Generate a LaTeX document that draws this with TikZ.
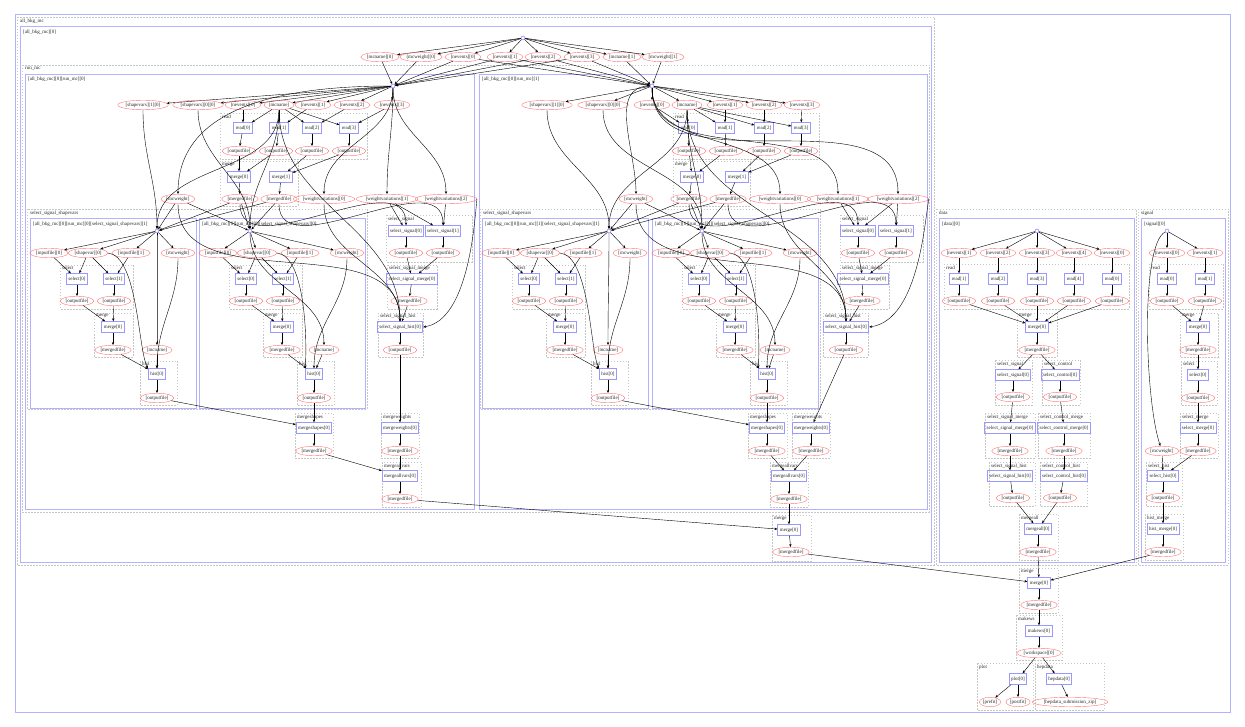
\documentclass[tikz,border=0pt]{standalone}
\usepackage{fontspec}
\setmainfont{Liberation Serif}
\usetikzlibrary{arrows.meta,shapes.geometric}

\begin{document}
\begin{tikzpicture}[x=1pt,y=-1pt,>={Stealth[length=3pt,width=2.4pt]},
  every node/.style={font=\fontsize{5}{6}\selectfont,text=black!85},
  file/.style={ellipse,draw=red!55,inner xsep=0.5pt,inner ysep=0pt,minimum height=9.5pt},
  job/.style={draw=blue!40,line width=0.9pt,inner xsep=2pt,inner ysep=0pt,minimum height=10.5pt},
  hub/.style={circle,draw=blue!60,fill=white,inner sep=0pt,minimum size=4pt},
  stagebox/.style={draw=blue!30,line width=1pt},
  stepbox/.style={draw=black!22,dash pattern=on 1.5pt off 1.5pt,line width=0.3pt},
  lbl/.style={anchor=north west,inner sep=0pt},
  dn/.style={out=-90,in=90}]
  \useasboundingbox (0,0) rectangle (1245,727);

  % Cluster frames
  \draw[stagebox] (15,15) rectangle (1230,712);
  \draw[stepbox] (17,17) rectangle (934,565);
  \node[lbl] (Lbkg) at (20,19) {all\_bkg\_mc};
  \draw[stagebox] (20,27) rectangle (931,562);
  \node[lbl] (Lbkg0) at (23,30) {[all\_bkg\_mc][0]};
  \draw[stepbox] (22,65) rectangle (929,512);
  \node[lbl] (Lrun) at (25,67) {run\_mc};
  \draw[stagebox] (25,75) rectangle (474,509);
  \node[lbl] (Lrun0) at (28,77) {[all\_bkg\_mc][0][run\_mc][0]};
  \draw[stagebox] (479,75) rectangle (927,509);
  \node[lbl] (Lrun1) at (482,77) {[all\_bkg\_mc][0][run\_mc][1]};
  % steps of run_mc[0]
  \draw[stepbox] (220,113) rectangle (367,159);   \node[lbl] (Lard) at (222,115) {read};
  \draw[stepbox] (220,161) rectangle (298,206);   \node[lbl] (Lamg) at (222,163) {merge};
  \draw[stepbox] (27,209) rectangle (367,409);    \node[lbl] (Lasss) at (30,211) {select\_signal\_shapevars};
  \draw[stepbox] (386,215) rectangle (472,262);   \node[lbl] (Lass) at (388,217) {select\_signal};
  \draw[stepbox] (387,265) rectangle (437,309);   \node[lbl] (Lassm) at (389,266) {select\_signal\_merge};
  \draw[stepbox] (378,313) rectangle (423,357);   \node[lbl] (Lash) at (380,314) {select\_signal\_hist};
  \draw[stepbox] (295,413) rectangle (333,458);   \node[lbl] (Lams) at (297,415) {mergeshapes};
  \draw[stepbox] (381,413) rectangle (419,458);   \node[lbl] (Lamw) at (383,415) {mergeweights};
  \draw[stepbox] (382,462) rectangle (421,507);   \node[lbl] (Lamav) at (384,464) {mergeallvars};
  % steps of run_mc[1]
  \draw[stepbox] (673,113) rectangle (819,159);   \node[lbl] (Lbrd) at (675,115) {read};
  \draw[stepbox] (673,161) rectangle (750,206);   \node[lbl] (Lbmg) at (675,163) {merge};
  \draw[stepbox] (480,209) rectangle (820,409);   \node[lbl] (Lbsss) at (483,211) {select\_signal\_shapevars};
  \draw[stepbox] (840,215) rectangle (923,262);   \node[lbl] (Lbss) at (842,217) {select\_signal};
  \draw[stepbox] (840,265) rectangle (889,309);   \node[lbl] (Lbssm) at (842,266) {select\_signal\_merge};
  \draw[stepbox] (823,313) rectangle (868,357);   \node[lbl] (Lbsh) at (825,314) {select\_signal\_hist};
  \draw[stepbox] (748,413) rectangle (787,458);   \node[lbl] (Lbms) at (750,415) {mergeshapes};
  \draw[stepbox] (792,413) rectangle (830,458);   \node[lbl] (Lbmw) at (794,415) {mergeweights};
  \draw[stepbox] (770,462) rectangle (808,507);   \node[lbl] (Lbmav) at (772,464) {mergeallvars};
  \draw[stepbox] (772,515) rectangle (811,561);   \node[lbl] (Lkmg) at (774,517) {merge};
  % data and signal frames
  \draw[stepbox] (936,209) rectangle (1136,565);  \node[lbl] (Ldata) at (939,211) {data};
  \draw[stagebox] (939,219) rectangle (1134,562); \node[lbl] (Ldata0) at (942,222) {[data][0]};
  \draw[stepbox] (944,264) rectangle (1129,309);  \node[lbl] (Ldrd) at (946,266) {read};
  \draw[stepbox] (1017,313) rectangle (1057,357); \node[lbl] (Ldmg) at (1019,314) {merge};
  \draw[stepbox] (995,360) rectangle (1032,405);  \node[lbl] (Ldss) at (997,362) {select\_signal};
  \draw[stepbox] (1042,360) rectangle (1080,405); \node[lbl] (Ldsc) at (1044,362) {select\_control};
  \draw[stepbox] (985,413) rectangle (1035,458);  \node[lbl] (Ldssm) at (987,415) {select\_signal\_merge};
  \draw[stepbox] (1038,413) rectangle (1090,458); \node[lbl] (Ldscm) at (1040,415) {select\_control\_merge};
  \draw[stepbox] (989,462) rectangle (1035,506);  \node[lbl] (Ldssh) at (991,464) {select\_signal\_hist};
  \draw[stepbox] (1040,462) rectangle (1087,506); \node[lbl] (Ldsch) at (1042,464) {select\_control\_hist};
  \draw[stepbox] (1019,514) rectangle (1058,560); \node[lbl] (Ldma) at (1021,516) {mergeall};
  \draw[stepbox] (1138,209) rectangle (1228,565); \node[lbl] (Lsig) at (1141,211) {signal};
  \draw[stagebox] (1141,219) rectangle (1225,562); \node[lbl] (Lsig0) at (1144,222) {[signal][0]};
  \draw[stepbox] (1149,264) rectangle (1223,309); \node[lbl] (Lsrd) at (1151,266) {read};
  \draw[stepbox] (1180,313) rectangle (1218,357); \node[lbl] (Lsmg) at (1182,314) {merge};
  \draw[stepbox] (1181,361) rectangle (1217,405); \node[lbl] (Lssel) at (1183,362) {select};
  \draw[stepbox] (1180,413) rectangle (1218,458); \node[lbl] (Lssm) at (1182,415) {select\_merge};
  \draw[stepbox] (1146,462) rectangle (1182,506); \node[lbl] (Lssh) at (1148,464) {select\_hist};
  \draw[stepbox] (1145,514) rectangle (1183,560); \node[lbl] (Lshm) at (1147,516) {hist\_merge};
  % final steps
  \draw[stepbox] (1019,568) rectangle (1058,613); \node[lbl] (Lfmg) at (1021,570) {merge};
  \draw[stepbox] (1016,615) rectangle (1062,660); \node[lbl] (Lfws) at (1018,617) {makews};
  \draw[stepbox] (977,663) rectangle (1033,710);  \node[lbl] (Lfpl) at (979,665) {plot};
  \draw[stepbox] (1035,663) rectangle (1104,710); \node[lbl] (Lfhd) at (1037,665) {hepdata};

  % Top level inputs
  \node[hub] (top) at (523,38) {};
  \foreach \n/\x/\lab in {tmn0/380/{[mcname][0]}, tmw0/421/{[mcweight][0]}, tne0/463/{[nevents][0]},
      tne1/505/{[nevents][1]}, tne2/543/{[nevents][2]}, tne3/582/{[nevents][3]},
      tmn1/622/{[mcname][1]}, tmw1/663/{[mcweight][1]}}
    {\node[file] (\n) at (\x,57) {\lab}; \draw[->] (top) -- (\n);}
  \node[hub] (ah) at (393,86) {};
  \node[hub] (bh) at (652,86) {};
  \foreach \n in {tmn0,tmw0,tne0,tne1,tne2,tne3} \draw[->] (\n) -- (ah);
  \foreach \n in {tne0,tne1,tne2,tne3,tmn1,tmw1} \draw[->] (\n) -- (bh);

  % run_mc[0]
  \foreach \n/\x/\lab in {asv1/143/{[shapevars][1][0]}, asv0/198/{[shapevars][0][0]}, ane0/243/{[nevents][0]},
      amn/279/{[mcname]}, ane1/313/{[nevents][1]}, ane2/352/{[nevents][2]}, ane3/392/{[nevents][3]}}
    {\node[file] (\n) at (\x,105) {\lab}; \draw[->] (ah) -- (\n);}
  \foreach \i/\x/\y in {0/243/239,1/279/276,2/312/312,3/349/349} {
    \node[job] (ard\i) at (\x,128) {read[\i]};
    \node[file] (aro\i) at (\y,151) {[outputfile]};
    \draw[->] (amn) -- (ard\i);
    \draw[->] (ane\i) -- (ard\i);
    \draw[->] (ard\i) -- (aro\i);
  }
  \node[job] (amg0) at (239,177) {merge[0]};
  \node[job] (amg1) at (281,177) {merge[1]};
  \node[file] (amf0) at (240,199) {[mergedfile]};
  \node[file] (amf1) at (279,199) {[mergedfile]};
  \draw[->] (aro0) -- (amg0);
  \draw[->] (aro1) -- (amg0);
  \draw[->] (aro2) -- (amg1);
  \draw[->] (aro3) -- (amg1);
  \draw[->] (amg0) -- (amf0);
  \draw[->] (amg1) -- (amf1);
  \node[file] (amw) at (178,199) {[mcweight]};
  \node[file] (awv0) at (324,199) {[weightvariations][0]};
  \node[file] (awv1) at (387,199) {[weightvariations][1]};
  \node[file] (awv2) at (446,199) {[weightvariations][2]};
  \draw[->] (ah) to[out=180,in=90] (amw);
  \foreach \n in {awv0,awv1,awv2} \draw[->] (ah) to[dn] (\n);

  % run_mc[1]
  \foreach \n/\x/\lab in {bsv1/547/{[shapevars][1][0]}, bsv0/603/{[shapevars][0][0]}, bne0/652/{[nevents][0]},
      bmn/687/{[mcname]}, bne1/725/{[nevents][1]}, bne2/764/{[nevents][2]}, bne3/802/{[nevents][3]}}
    {\node[file] (\n) at (\x,105) {\lab}; \draw[->] (bh) -- (\n);}
  \foreach \i/\x/\y in {0/688/689,1/725/726,2/764/764,3/801/801} {
    \node[job] (brd\i) at (\x,128) {read[\i]};
    \node[file] (bro\i) at (\y,151) {[outputfile]};
    \draw[->] (bmn) -- (brd\i);
    \draw[->] (bne\i) -- (brd\i);
    \draw[->] (brd\i) -- (bro\i);
  }
  \node[job] (bmg0) at (692,177) {merge[0]};
  \node[job] (bmg1) at (737,177) {merge[1]};
  \node[file] (bmf0) at (689,199) {[mergedfile]};
  \node[file] (bmf1) at (728,199) {[mergedfile]};
  \draw[->] (bro0) -- (bmg0);
  \draw[->] (bro1) -- (bmg0);
  \draw[->] (bro2) -- (bmg1);
  \draw[->] (bro3) -- (bmg1);
  \draw[->] (bmg0) -- (bmf0);
  \draw[->] (bmg1) -- (bmf1);
  \node[file] (bmw) at (636,199) {[mcweight]};
  \node[file] (bwv0) at (780,199) {[weightvariations][0]};
  \node[file] (bwv1) at (838,199) {[weightvariations][1]};
  \node[file] (bwv2) at (898,199) {[weightvariations][2]};
  \draw[->] (bh) to[out=180,in=90] (bmw);
  \foreach \n in {bwv0,bwv1,bwv2} \draw[->] (bh) to[dn] (\n);

  % select_signal_shapevars blocks
  \foreach \p/\bx/\hx/\mx/\hs/\rn/\sn in {a1/30/127/127/127/0/1, a0/199/51/125/115/0/0,
      b1/482/127/126/126/1/1, b0/652/50/123/115/1/0} {
    \draw[stagebox] (\bx,219) rectangle (\bx+166,408);
    \node[lbl] (\p-lab) at (\bx+3,222) {[all\_bkg\_mc][0][run\_mc][\rn][select\_signal\_shapevars][\sn]};
    \draw[stepbox] (\bx+30,265) rectangle (\bx+103,309);
    \node[lbl] (\p-lsel) at (\bx+32,266) {select};
    \draw[stepbox] (\bx+64,313) rectangle (\bx+103,357);
    \node[lbl] (\p-lmg) at (\bx+66,314) {merge};
    \draw[stepbox] (\bx+\hs-17,361) rectangle (\bx+\hs+20,405);
    \node[lbl] (\p-lhi) at (\bx+\hs-15,362) {hist};
    \node[hub] (\p-h) at (\bx+\hx,231) {};
    \node[file] (\p-in0) at (\bx+19,253) {[inputfile][0]};
    \node[file] (\p-sv) at (\bx+58,253) {[shapevar][0]};
    \node[file] (\p-in1) at (\bx+101,253) {[inputfile][1]};
    \node[file] (\p-mw) at (\bx+148,253) {[mcweight]};
    \node[job] (\p-s0) at (\bx+47,279) {select[0]};
    \node[job] (\p-s1) at (\bx+84,279) {select[1]};
    \node[file] (\p-so0) at (\bx+47,301) {[outputfile]};
    \node[file] (\p-so1) at (\bx+84,301) {[outputfile]};
    \node[job] (\p-mg) at (\bx+83,327) {merge[0]};
    \node[file] (\p-mf) at (\bx+83,350) {[mergedfile]};
    \node[file] (\p-mn) at (\bx+\mx,350) {[mcname]};
    \node[job] (\p-hi) at (\bx+\hs,374) {hist[0]};
    \node[file] (\p-ho) at (\bx+\hs,398) {[outputfile]};
    \foreach \n in {in0,sv,in1,mw} \draw[->] (\p-h) -- (\p-\n);
    \draw[->] (\p-h) to[dn] (\p-mn);
    \draw[->] (\p-in0) -- (\p-s0);
    \draw[->] (\p-sv) -- (\p-s0);
    \draw[->] (\p-sv) -- (\p-s1);
    \draw[->] (\p-in1) -- (\p-s1);
    \draw[->] (\p-s0) -- (\p-so0);
    \draw[->] (\p-s1) -- (\p-so1);
    \draw[->] (\p-so0) -- (\p-mg);
    \draw[->] (\p-so1) -- (\p-mg);
    \draw[->] (\p-mg) -- (\p-mf);
    \draw[->] (\p-mf) -- (\p-hi);
    \draw[->] (\p-mn) -- (\p-hi);
    \draw[->] (\p-mw) to[dn] (\p-hi);
    \draw[->] (\p-sv.east) .. controls (\bx+108,256) and (\bx+108,350) .. (\p-hi.north west);
    \draw[->] (\p-hi) -- (\p-ho);
  }
  % inputs of the shapevar hubs
  \draw[->] (asv1) to[dn] (a1-h);
  \draw[->] (asv0) to[dn] (a0-h);
  \draw[->] (bsv1) to[dn] (b1-h);
  \draw[->] (bsv0) to[dn] (b0-h);
  \foreach \r in {a,b} {
    \foreach \s in {1,0} {
      \draw[->] (\r mw) -- (\r\s-h);
      \draw[->] (\r mn) to[dn] (\r\s-h);
      \draw[->] (\r mf0) -- (\r\s-h);
      \draw[->] (\r mf1) -- (\r\s-h);
    }
  }

  % select_signal of run_mc[0]
  \node[job] (ass0) at (406,231) {select\_signal[0]};
  \node[job] (ass1) at (443,231) {select\_signal[1]};
  \node[file] (asso0) at (406,253) {[outputfile]};
  \node[file] (asso1) at (443,253) {[outputfile]};
  \node[job] (assm) at (412,279) {select\_signal\_merge[0]};
  \node[file] (assmf) at (409,301) {[mergedfile]};
  \node[job] (ash) at (400,327) {select\_signal\_hist[0]};
  \node[file] (asho) at (400,350) {[outputfile]};
  \draw[->] (amf0) to[dn] (ass0);
  \draw[->] (amf1) to[dn] (ass1);
  \draw[->] (awv1) -- (ass0);
  \draw[->] (awv1) -- (ass1);
  \draw[->] (awv2) -- (ass1);
  \draw[->] (ass0) -- (asso0);
  \draw[->] (ass1) -- (asso1);
  \draw[->] (asso0) -- (assm);
  \draw[->] (asso1) -- (assm);
  \draw[->] (assm) -- (assmf);
  \draw[->] (assmf) -- (ash);
  \draw[->] (amn) to[dn] (ash);
  \draw[->] (amw) to[dn] (ash);
  \draw[->] (awv0) to[dn] (ash);
  \draw[->] (awv2.east) .. controls (475,215) and (470,320) .. (ash.east);
  \draw[->] (ash) -- (asho);
  % merges of run_mc[0]
  \node[job] (ams) at (314,428) {mergeshapes[0]};
  \node[file] (amsf) at (314,451) {[mergedfile]};
  \node[job] (amwt) at (400,428) {mergeweights[0]};
  \node[file] (amwf) at (400,451) {[mergedfile]};
  \node[job] (amav) at (400,476) {mergeallvars[0]};
  \node[file] (amavf) at (400,499) {[mergedfile]};
  \draw[->] (a1-ho) -- (ams);
  \draw[->] (a0-ho) -- (ams);
  \draw[->] (ams) -- (amsf);
  \draw[->] (asho) -- (amwt);
  \draw[->] (amwt) -- (amwf);
  \draw[->] (amsf) -- (amav);
  \draw[->] (amwf) -- (amav);
  \draw[->] (amav) -- (amavf);

  % select_signal of run_mc[1]
  \node[job] (bss0) at (858,231) {select\_signal[0]};
  \node[job] (bss1) at (896,231) {select\_signal[1]};
  \node[file] (bsso0) at (858,253) {[outputfile]};
  \node[file] (bsso1) at (896,253) {[outputfile]};
  \node[job] (bssm) at (863,279) {select\_signal\_merge[0]};
  \node[file] (bssmf) at (862,301) {[mergedfile]};
  \node[job] (bsh) at (846,327) {select\_signal\_hist[0]};
  \node[file] (bsho) at (846,350) {[outputfile]};
  \draw[->] (bmf0) to[dn] (bss0);
  \draw[->] (bmf1) to[dn] (bss1);
  \draw[->] (bwv1) -- (bss0);
  \draw[->] (bwv2) -- (bss0);
  \draw[->] (bwv2) -- (bss1);
  \draw[->] (bss0) -- (bsso0);
  \draw[->] (bss1) -- (bsso1);
  \draw[->] (bsso0) -- (bssm);
  \draw[->] (bsso1) -- (bssm);
  \draw[->] (bssm) -- (bssmf);
  \draw[->] (bssmf) -- (bsh);
  \draw[->] (bmn) to[dn] (bsh);
  \draw[->] (bmw) to[dn] (bsh);
  \draw[->] (bwv0) to[dn] (bsh);
  \draw[->] (bwv2.east) .. controls (925,215) and (920,320) .. (bsh.east);
  \draw[->] (bsh) -- (bsho);
  % merges of run_mc[1]
  \node[job] (bms) at (767,428) {mergeshapes[0]};
  \node[file] (bmsf) at (767,451) {[mergedfile]};
  \node[job] (bmwt) at (811,428) {mergeweights[0]};
  \node[file] (bmwf) at (811,451) {[mergedfile]};
  \node[job] (bmav) at (789,476) {mergeallvars[0]};
  \node[file] (bmavf) at (789,499) {[mergedfile]};
  \draw[->] (b1-ho) -- (bms);
  \draw[->] (b0-ho) -- (bms);
  \draw[->] (bms) -- (bmsf);
  \draw[->] (bsho) -- (bmwt);
  \draw[->] (bmwt) -- (bmwf);
  \draw[->] (bmsf) -- (bmav);
  \draw[->] (bmwf) -- (bmav);
  \draw[->] (bmav) -- (bmavf);
  % merge of all_bkg_mc
  \node[job] (kmg) at (789,530) {merge[0]};
  \node[file] (kmf) at (791,552) {[mergedfile]};
  \draw[->] (amavf) -- (kmg);
  \draw[->] (bmavf) -- (kmg);
  \draw[->] (kmg) -- (kmf);

  % data
  \node[hub] (dh) at (1037,231) {};
  \node[job] (dmg) at (1037,327) {merge[0]};
  \foreach \i/\x in {1/959,2/998,3/1037,4/1074,0/1112} {
    \node[file] (dne\i) at (\x,253) {[nevents][\i]};
    \node[job] (drd\i) at (\x,279) {read[\i]};
    \node[file] (dro\i) at (\x,301) {[outputfile]};
    \draw[->] (dh) -- (dne\i);
    \draw[->] (dne\i) -- (drd\i);
    \draw[->] (drd\i) -- (dro\i);
    \draw[->] (dro\i) -- (dmg);
  }
  \node[file] (dmf) at (1037,350) {[mergedfile]};
  \node[job] (dss) at (1013,375) {select\_signal[0]};
  \node[job] (dsc) at (1060,375) {select\_control[0]};
  \node[file] (dsso) at (1013,397) {[outputfile]};
  \node[file] (dsco) at (1060,397) {[outputfile]};
  \node[job] (dssm) at (1010,428) {select\_signal\_merge[0]};
  \node[job] (dscm) at (1064,428) {select\_control\_merge[0]};
  \node[file] (dssmf) at (1010,451) {[mergedfile]};
  \node[file] (dscmf) at (1064,451) {[mergedfile]};
  \node[job] (dssh) at (1010,476) {select\_signal\_hist[0]};
  \node[job] (dsch) at (1064,476) {select\_control\_hist[0]};
  \node[file] (dssho) at (1013,498) {[outputfile]};
  \node[file] (dscho) at (1060,498) {[outputfile]};
  \node[job] (dma) at (1038,529) {mergeall[0]};
  \node[file] (dmaf) at (1038,552) {[mergedfile]};
  \draw[->] (dmg) -- (dmf);
  \draw[->] (dmf) -- (dss);
  \draw[->] (dmf) -- (dsc);
  \draw[->] (dss) -- (dsso);
  \draw[->] (dsc) -- (dsco);
  \draw[->] (dsso) -- (dssm);
  \draw[->] (dsco) -- (dscm);
  \draw[->] (dssm) -- (dssmf);
  \draw[->] (dscm) -- (dscmf);
  \draw[->] (dssmf) -- (dssh);
  \draw[->] (dscmf) -- (dsch);
  \draw[->] (dssh) -- (dssho);
  \draw[->] (dsch) -- (dscho);
  \draw[->] (dssho) -- (dma);
  \draw[->] (dscho) -- (dma);
  \draw[->] (dma) -- (dmaf);

  % signal
  \node[hub] (sh) at (1167,231) {};
  \node[job] (smg) at (1198,327) {merge[0]};
  \foreach \i/\x in {0/1167,1/1205} {
    \node[file] (sne\i) at (\x,253) {[nevents][\i]};
    \node[job] (srd\i) at (\x,279) {read[\i]};
    \node[file] (sro\i) at (\x,301) {[outputfile]};
    \draw[->] (sh) -- (sne\i);
    \draw[->] (sne\i) -- (srd\i);
    \draw[->] (srd\i) -- (sro\i);
    \draw[->] (sro\i) -- (smg);
  }
  \node[file] (smf) at (1198,350) {[mergedfile]};
  \node[job] (ssel) at (1198,375) {select[0]};
  \node[file] (sselo) at (1198,398) {[outputfile]};
  \node[job] (ssm) at (1198,428) {select\_merge[0]};
  \node[file] (ssmf) at (1198,451) {[mergedfile]};
  \node[file] (smw) at (1162,451) {[mcweight]};
  \node[job] (ssh) at (1163,476) {select\_hist[0]};
  \node[file] (ssho) at (1163,498) {[outputfile]};
  \node[job] (shm) at (1163,529) {hist\_merge[0]};
  \node[file] (shmf) at (1163,552) {[mergedfile]};
  \draw[->] (sh) .. controls (1140,245) and (1145,400) .. (smw);
  \draw[->] (smg) -- (smf);
  \draw[->] (smf) -- (ssel);
  \draw[->] (ssel) -- (sselo);
  \draw[->] (sselo) -- (ssm);
  \draw[->] (ssm) -- (ssmf);
  \draw[->] (ssmf) -- (ssh);
  \draw[->] (smw) -- (ssh);
  \draw[->] (ssh) -- (ssho);
  \draw[->] (ssho) -- (shm);
  \draw[->] (shm) -- (shmf);

  % final merge, workspace and outputs
  \node[job] (fmg) at (1039,583) {merge[0]};
  \node[file] (fmf) at (1039,605) {[mergedfile]};
  \node[job] (fmw) at (1039,631) {makews[0]};
  \node[file] (fws) at (1039,653) {[workspace][0]};
  \node[job] (fpl) at (1018,679) {plot[0]};
  \node[job] (fhd) at (1059,679) {hepdata[0]};
  \node[file] (fpre) at (990,702) {[prefit]};
  \node[file] (fpost) at (1018,702) {[postfit]};
  \node[file] (fzip) at (1070,702) {[hepdata\_submission\_zip]};
  \draw[->] (kmf) -- (fmg);
  \draw[->] (dmaf) -- (fmg);
  \draw[->] (shmf) -- (fmg);
  \draw[->] (fmg) -- (fmf);
  \draw[->] (fmf) -- (fmw);
  \draw[->] (fmw) -- (fws);
  \draw[->] (fws) -- (fpl);
  \draw[->] (fws) -- (fhd);
  \draw[->] (fpl) -- (fpre);
  \draw[->] (fpl) -- (fpost);
  \draw[->] (fhd) -- (fzip);
\end{tikzpicture}
\end{document}
